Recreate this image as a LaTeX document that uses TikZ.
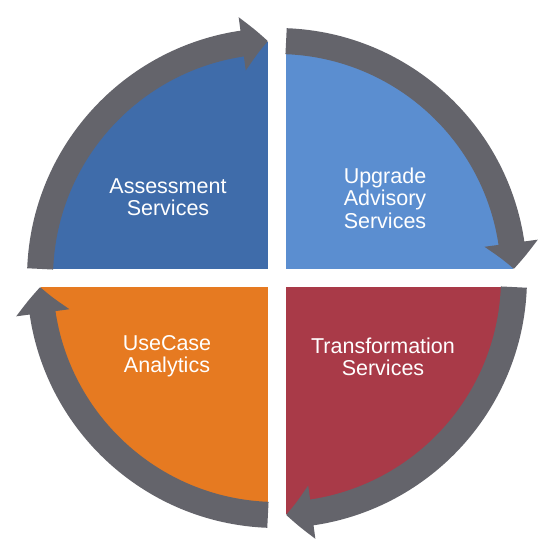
\documentclass[tikz,border=0pt]{standalone}
\usepackage{fontspec}
\setmainfont{Liberation Sans}
\usetikzlibrary{arrows.meta,bending}
\definecolor{assessblue}{HTML}{3F6CAA}
\definecolor{upgradeblue}{HTML}{5B8ED0}
\definecolor{transred}{HTML}{A93A48}
\definecolor{useorange}{HTML}{E67A21}
\definecolor{ringgrey}{HTML}{64646B}

\begin{document}
\begin{tikzpicture}[x=1pt,y=1pt,
    lbl/.style={text=white, align=center, font=\fontsize{21.5}{22.5}\selectfont},
    cycarrow/.style={draw=ringgrey, line width=26pt, -{Triangle[width=52pt,length=26pt,bend]}}]

    \useasboundingbox (-277,-262) rectangle (262,278);

    % the four quarters
    \fill[assessblue] (0,0) -- (180:236) arc[start angle=180, end angle=90, radius=236] -- cycle;
    \fill[upgradeblue] (0,0) -- (90:236) arc[start angle=90, end angle=0, radius=236] -- cycle;
    \fill[transred] (0,0) -- (0:236) arc[start angle=0, end angle=-90, radius=236] -- cycle;
    \fill[useorange] (0,0) -- (-90:236) arc[start angle=-90, end angle=-180, radius=236] -- cycle;

    % white cross between them
    \fill[white] (-9,-252) rectangle (9,252);
    \fill[white] (-252,-9) rectangle (252,9);

    % grey arrows round the circle
    \foreach \a in {0,-90,-180,-270}{
        \draw[cycarrow] ({\a+177.8}:237) arc[start angle={\a+177.8}, end angle={\a+92.2}, radius=237];
    }

    \node[lbl] (assess) at (-109,81) {Assessment\\Services};
    \node[lbl] (upgrade) at (108,80) {Upgrade\\Advisory\\Services};
    \node[lbl] (transform) at (106,-79) {Transformation\\Services};
    \node[lbl] (usecase) at (-110,-78) {UseCase\\Analytics};

\end{tikzpicture}
\end{document}
